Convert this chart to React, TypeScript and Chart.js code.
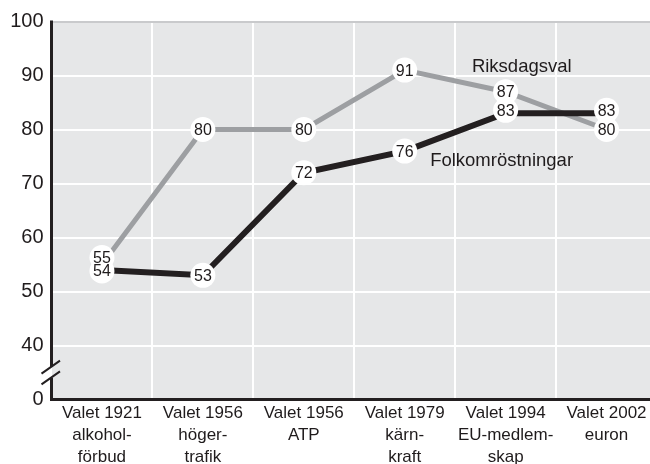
import React, { useEffect, useRef } from "react";
import { Chart, registerables } from "chart.js";

Chart.register(...registerables);

const categories: string[][] = [
  ["Valet 1921", "alkohol-", "förbud"],
  ["Valet 1956", "höger-", "trafik"],
  ["Valet 1956", "ATP"],
  ["Valet 1979", "kärn-", "kraft"],
  ["Valet 1994", "EU-medlem-", "skap"],
  ["Valet 2002", "euron"],
];
const riksdagsval = [55, 80, 80, 91, 87, 80];
const folkomrostningar = [54, 53, 72, 76, 83, 83];
const yMin = 30;
const yMax = 100;
const yStep = 10;
const yBreakLabel = "0";
const seriesNames = ["Riksdagsval", "Folkomröstningar"];
// annotation anchors in data coordinates (category index, value)
const annotationAnchors = [
  [4.16, 91.5],
  [3.96, 74.1],
];
// axis break (values between which the axis is interrupted)
const breakRange = [34, 36];

const FONT = "'Liberation Sans', Arial, Helvetica, sans-serif";
const TEXT = "#1f1b1c";
const GREY = "#9d9fa2";
const BLACK = "#231f20";
const labelShift = [
  [-7, 0, 0, 0, 0, 0],
  [1, 0, 0, 0, -3, -3],
];

const bgPlugin = {
  id: "bg",
  beforeDraw(chart: any) {
    const { ctx, chartArea: a } = chart;
    ctx.save();
    ctx.fillStyle = "#e6e7e8";
    ctx.fillRect(a.left, a.top, a.right - a.left, a.bottom - a.top);
    ctx.restore();
  },
};

const labelsPlugin = {
  id: "pointLabels",
  afterDatasetsDraw(chart: any) {
    const { ctx } = chart;
    const items: { x: number; y: number; t: string }[] = [];
    chart.data.datasets.forEach((ds: any, di: number) => {
      const meta = chart.getDatasetMeta(di);
      meta.data.forEach((pt: any, i: number) => {
        items.push({ x: pt.x, y: pt.y + labelShift[di][i], t: String(ds.data[i]) });
      });
    });
    ctx.save();
    ctx.fillStyle = "#ffffff";
    items.forEach((it) => {
      ctx.beginPath();
      ctx.arc(it.x, it.y, 12.5, 0, Math.PI * 2);
      ctx.fill();
    });
    ctx.fillStyle = TEXT;
    ctx.font = `16px ${FONT}`;
    ctx.textAlign = "center";
    ctx.textBaseline = "middle";
    items.forEach((it) => ctx.fillText(it.t, it.x, it.y + 1));
    // series annotations
    ctx.font = `18.5px ${FONT}`;
    const xs = chart.scales.x;
    const ys = chart.scales.y;
    annotationAnchors.forEach((a, i) => {
      ctx.fillText(seriesNames[i], xs.getPixelForValue(a[0]), ys.getPixelForValue(a[1]));
    });
    ctx.restore();
  },
};

const axisPlugin = {
  id: "brokenAxis",
  afterDraw(chart: any) {
    const { ctx, chartArea: a } = chart;
    const ys = chart.scales.y;
    const x = a.left;
    const gapBottom = ys.getPixelForValue(breakRange[0]);
    const gapTop = ys.getPixelForValue(breakRange[1]);
    ctx.save();
    ctx.strokeStyle = BLACK;
    ctx.lineWidth = 3;
    ctx.beginPath();
    ctx.moveTo(x, a.top - 1);
    ctx.lineTo(x, gapTop);
    ctx.moveTo(x, gapBottom);
    ctx.lineTo(x, a.bottom + 1.5);
    ctx.stroke();
    ctx.lineWidth = 2;
    ctx.beginPath();
    [gapTop, gapBottom].forEach((y) => {
      ctx.moveTo(x - 10, y + 6.5);
      ctx.lineTo(x + 8.5, y - 6.5);
    });
    ctx.stroke();
    ctx.restore();
  },
};

export default function App() {
  const ref = useRef<HTMLCanvasElement>(null);
  useEffect(() => {
    if (!ref.current) return;
    const chart = new Chart(ref.current, {
      type: "line",
      data: {
        labels: categories,
        datasets: [
          {
            label: seriesNames[0],
            data: riksdagsval,
            borderColor: GREY,
            borderWidth: 5,
            pointRadius: 0,
            tension: 0,
            order: 1,
          },
          {
            label: seriesNames[1],
            data: folkomrostningar,
            borderColor: BLACK,
            borderWidth: 6,
            pointRadius: 0,
            tension: 0,
            order: 0,
          },
        ],
      },
      options: {
        responsive: false,
        animation: false,
        layout: { padding: { top: 21.5, right: 3, left: 0, bottom: 0 } },
        plugins: { legend: { display: false }, tooltip: { enabled: false } },
        scales: {
          x: {
            offset: true,
            grid: { offset: true, color: "#ffffff", lineWidth: 2, drawTicks: false },
            border: { display: true, color: BLACK, width: 3 },
            ticks: {
              color: TEXT,
              font: { family: FONT, size: 17, lineHeight: "22px" },
              padding: 3,
              maxRotation: 0,
              autoSkip: false,
            },
            afterFit(scale: any) {
              scale.height = 64.5;
            },
          },
          y: {
            min: yMin,
            max: yMax,
            grid: {
              color: (c: any) => (c.tick && c.tick.value === yMax ? "#c9cacc" : "#ffffff"),
              lineWidth: 2,
              drawTicks: false,
            },
            border: { display: false },
            ticks: {
              stepSize: yStep,
              color: TEXT,
              font: { family: FONT, size: 20 },
              padding: 8,
              callback: (v: any) => (v === yMin ? yBreakLabel : String(v)),
            },
            afterFit(scale: any) {
              scale.width = 51.5;
            },
          },
        },
      },
      plugins: [bgPlugin, labelsPlugin, axisPlugin],
    });
    return () => chart.destroy();
  }, []);
  return (
    <div
      style={{
        position: "fixed",
        left: 0,
        top: 0,
        width: 650,
        height: 464,
        overflow: "hidden",
        background: "#ffffff",
      }}
    >
      <canvas ref={ref} width={660} height={464} style={{ width: 660, height: 464, display: "block" }} />
    </div>
  );
}
